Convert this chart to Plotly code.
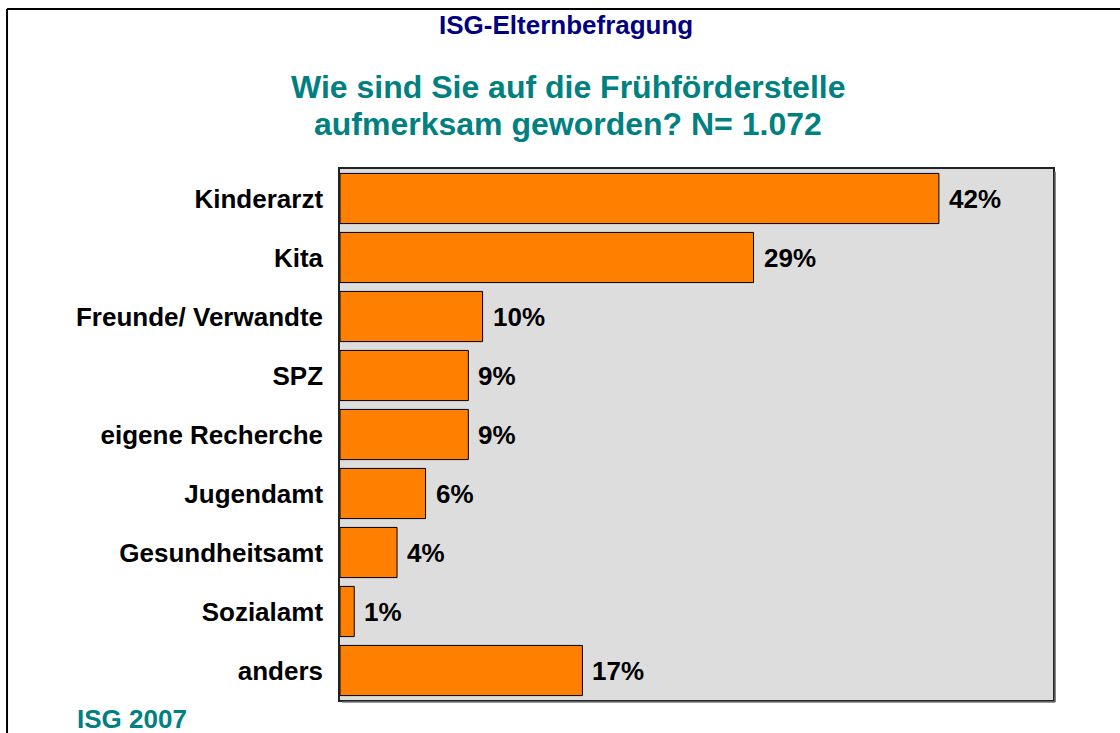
import plotly.graph_objects as go

# Daten aus der ISG-Elternbefragung 2007
kategorien = ["Kinderarzt", "Kita", "Freunde/ Verwandte", "SPZ", "eigene Recherche",
              "Jugendamt", "Gesundheitsamt", "Sozialamt", "anders"]
anteile = [42, 29, 10, 9, 9, 6, 4, 1, 17]

schrift = "Liberation Sans, Arial, sans-serif"
teal = "#008080"

fig = go.Figure()
fig.add_trace(go.Bar(
    x=anteile, y=kategorien, orientation="h",
    marker=dict(color="#FF8000", line=dict(color="black", width=1)),
    width=0.85, hoverinfo="x+y",
))

# Prozentwerte rechts neben den Balken
for kat, wert in zip(kategorien, anteile):
    fig.add_annotation(x=wert, y=kat, xref="x", yref="y", text=f"<b>{wert}%</b>",
                       showarrow=False, xanchor="left", yanchor="middle", xshift=8,
                       font=dict(family=schrift, size=26, color="black"))

fig.add_annotation(x=0.317, y=1.271, xref="paper", yref="paper",
                   text="<b>ISG-Elternbefragung</b>", showarrow=False,
                   xanchor="center", yanchor="middle",
                   font=dict(family=schrift, size=26, color="#000080"))
fig.add_annotation(x=0.3198, y=1.155, xref="paper", yref="paper",
                   text="<b>Wie sind Sie auf die Frühförderstelle</b>", showarrow=False,
                   xanchor="center", yanchor="middle",
                   font=dict(family=schrift, size=32, color=teal))
fig.add_annotation(x=0.3198, y=1.085, xref="paper", yref="paper",
                   text="<b>aufmerksam geworden? N= 1.072</b>", showarrow=False,
                   xanchor="center", yanchor="middle",
                   font=dict(family=schrift, size=32, color=teal))
fig.add_annotation(x=-0.3717, y=-0.036, xref="paper", yref="paper",
                   text="<b>ISG 2007</b>", showarrow=False,
                   xanchor="left", yanchor="middle",
                   font=dict(family=schrift, size=26, color=teal))

# Rahmen der Folie
fig.add_shape(type="line", xref="paper", yref="paper", x0=-0.467, x1=-0.467, y0=-0.1, y1=1.3013,
              line=dict(color="black", width=2))
fig.add_shape(type="line", xref="paper", yref="paper", x0=-0.467, x1=1.12, y0=1.3013, y1=1.3013,
              line=dict(color="black", width=2))
# Schatten am Diagrammbereich
fig.add_shape(type="line", xref="paper", yref="paper", x0=1.003, x1=1.003, y0=-0.004, y1=0.995,
              line=dict(color="#777777", width=1.5))
fig.add_shape(type="line", xref="paper", yref="paper", x0=0.003, x1=1.003, y0=-0.004, y1=-0.004,
              line=dict(color="#777777", width=1.5))

fig.update_layout(
    width=1120, height=733,
    margin=dict(l=340, r=67, t=169, b=33),
    paper_bgcolor="white", plot_bgcolor="#DDDDDD",
    showlegend=False, bargap=0.15,
    font=dict(family=schrift, size=26, color="black"),
)
fig.update_xaxes(range=[0, 50], showticklabels=False, showgrid=False, zeroline=False,
                 showline=True, mirror=True, linecolor="#222222", linewidth=1.5, fixedrange=True)
fig.update_yaxes(categoryorder="array", categoryarray=kategorien, autorange="reversed",
                 showgrid=False, zeroline=False, showline=True, mirror=True,
                 linecolor="#222222", linewidth=1.5, ticks="", ticklabelstandoff=10,
                 tickfont=dict(family=schrift, size=26, color="black", weight="bold"),
                 fixedrange=True)

# Seitenrand entfernen, damit die Grafik genau im Fenster sitzt
fig.write_html("out.html", config={"displayModeBar": False},
               post_script="document.body.style.margin='0';")
